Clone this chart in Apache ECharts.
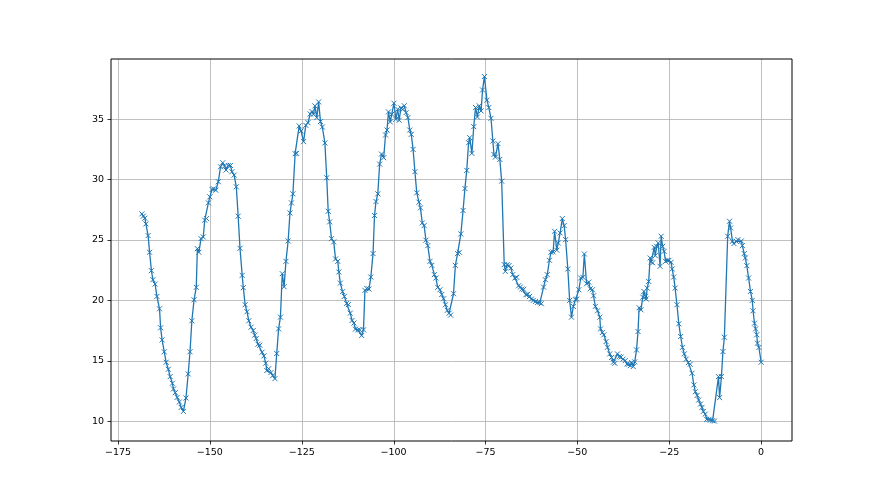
<!DOCTYPE html>
<html>
<head>
<meta charset="utf-8">
<script src="https://cdn.jsdelivr.net/npm/echarts@6/dist/echarts.min.js"></script>
<style>
html,body{margin:0;padding:0;background:#fff;}
#chart{width:880px;height:495px;}
</style>
</head>
<body>
<div id="chart"></div>
<script>
// hours relative to now
const hours = [
-168.5,-168.1,-167.7,-167.4,-166.8,-166.4,-165.9,-165.5,-164.9,-164.4,-163.7,-163.4,-163.0,-162.4,-161.9,-161.3,-160.8,-160.2,-159.9,-159.4,-158.9,-158.3,-157.8,-157.2,
-156.5,-155.9,-155.4,-154.9,-154.3,-153.7,-153.4,-153.0,-152.4,-151.8,-151.4,-150.9,-150.4,-150.0,-149.4,-149.0,-148.4,-147.7,-147.1,-146.5,-146.0,-145.6,-145.0,-144.4,-144.0,-143.4,-142.8,-142.3,-141.8,-141.2,-140.9,
-140.4,-139.9,-139.4,-138.8,-138.2,-137.8,-137.4,-136.9,-136.4,-135.8,-135.3,-134.8,-134.5,-134.0,-133.4,-132.9,-132.3,-131.8,-131.3,-130.8,-130.3,-129.8,-129.3,-128.7,-128.2,-127.8,-127.4,-126.8,-126.4,
-125.7,-125.2,-124.5,-123.9,-123.3,-122.7,-122.2,-121.8,-121.4,-120.9,-120.4,-119.9,-119.4,-118.7,-118.2,-117.8,-117.4,-116.9,-116.3,-115.8,-115.2,-114.9,-114.5,-113.9,-113.4,-112.8,-112.3,-111.8,-111.3,-110.8,-110.4,
-109.7,-109.2,-108.7,-108.2,-107.8,-107.3,-106.7,-106.2,-105.6,-105.2,-104.8,-104.3,-103.8,-103.3,-102.7,-102.2,-101.8,-101.4,-100.9,-100.5,-99.9,-99.4,-98.9,-98.5,-98.0,-97.5,-97.1,-96.6,-96.1,
-95.6,-95.2,-94.7,-94.2,-93.7,-93.1,-92.7,-92.2,-91.7,-91.2,-90.7,-90.1,-89.6,-88.9,-88.5,-88.0,-87.4,-86.9,-86.4,-85.9,-85.4,-84.9,-84.5,-83.7,-83.2,-82.6,-82.1,-81.7,-81.1,-80.6,-80.1,
-79.6,-79.3,-78.7,-78.2,-77.7,-77.2,-76.7,-76.2,-75.8,-75.3,-74.6,-74.1,-73.5,-73.0,-72.7,-72.3,-71.6,-71.1,-70.6,-69.9,-69.6,-69.1,-68.6,-68.1,-67.6,-67.0,-66.5,
-66.0,-65.5,-65.1,-64.6,-64.0,-63.5,-63.0,-62.5,-62.0,-61.4,-60.8,-60.2,-59.8,-59.2,-58.7,-58.2,-57.6,-57.2,-56.6,-56.2,-55.6,-55.2,-54.7,-54.1,-53.6,-53.2,-52.6,-52.1,-51.6,-51.1,-50.5,-50.2,
-49.6,-49.1,-48.5,-48.1,-47.5,-46.9,-46.5,-45.9,-45.6,-45.1,-44.5,-43.9,-43.7,-43.2,-42.8,-42.2,-41.8,-41.2,-40.7,-40.2,-39.8,-39.1,-38.6,-38.1,-37.6,-37.0,-36.5,-36.1,-35.6,-35.2,-34.8,-34.4,
-33.9,-33.5,-33.2,-32.7,-32.2,-31.9,-31.5,-31.3,-31.0,-30.6,-30.2,-29.9,-29.5,-29.1,-28.8,-28.4,-28.0,-27.5,-27.2,-26.8,-26.4,-26.0,-25.5,-25.1,-24.5,-24.2,-23.8,-23.4,-22.9,-22.4,
-21.9,-21.4,-20.9,-20.4,-19.8,-19.3,-18.8,-18.3,-17.9,-17.4,-17.0,-16.5,-16.1,-15.7,-15.2,-14.8,-14.2,-13.8,-13.2,-12.7,-11.6,-11.3,-10.8,-10.4,-10.0,
-9.1,-8.6,-8.3,-7.8,-7.4,-6.8,-6.3,-5.4,-5.1,-4.6,-4.3,-3.9,-3.4,-2.9,-2.4,-2.2,-1.8,-1.5,-1.2,-1.0,-0.6,0.0
];
// temperature values
const temps = [
27.15,26.96,26.79,26.32,25.35,23.97,22.45,21.70,21.34,20.32,19.29,17.72,16.72,15.73,14.87,14.29,13.68,13.13,12.66,12.35,11.96,11.58,11.13,10.80,
11.91,13.90,15.74,18.30,20.04,21.07,24.27,23.97,25.10,25.24,26.63,26.76,28.06,28.56,29.17,29.22,29.11,29.81,31.05,31.38,31.11,30.78,31.16,31.16,30.64,30.36,29.39,26.96,24.30,22.06,21.04,
19.63,19.05,18.30,17.77,17.50,17.11,16.83,16.36,16.28,15.70,15.39,14.79,14.18,14.34,14.01,13.76,13.51,15.59,17.63,18.60,22.20,21.12,23.22,24.91,27.23,28.06,28.81,32.13,32.16,
34.43,34.01,33.13,34.48,34.70,35.42,35.62,35.40,36.09,35.12,36.42,34.79,34.34,33.02,30.14,27.37,26.49,25.10,24.83,23.42,23.22,22.34,21.42,20.71,20.32,19.74,19.64,18.93,18.33,18.11,17.61,
17.55,17.55,17.08,17.55,20.82,20.98,20.93,21.92,23.86,27.01,28.17,28.81,31.27,32.10,31.80,33.68,34.09,35.59,34.76,35.40,36.31,34.98,35.81,34.90,35.92,35.80,36.10,35.53,35.12,
34.09,33.73,32.49,30.64,28.89,28.12,27.65,26.40,26.18,24.97,24.52,23.22,22.89,22.12,21.84,21.07,20.87,20.48,20.12,19.63,19.16,18.93,18.77,20.54,22.89,23.86,23.97,25.49,27.43,29.25,30.75,
33.04,33.46,32.16,34.37,35.95,35.17,36.09,35.67,37.41,38.52,36.56,35.95,35.06,33.18,32.07,31.85,32.96,31.66,29.86,22.95,22.39,22.95,22.87,22.67,22.12,21.84,21.90,
21.20,21.10,20.93,20.90,20.46,20.50,20.32,20.10,19.99,19.90,19.82,19.80,19.71,21.09,21.70,22.12,23.31,23.97,24.00,25.71,24.14,24.74,25.57,26.76,26.18,25.02,22.59,19.99,18.60,19.49,20.04,20.10,
20.87,21.84,21.90,23.83,21.37,21.50,20.95,20.87,20.37,19.49,19.13,18.60,17.63,17.33,17.14,16.58,16.11,15.56,15.26,14.87,14.78,15.56,15.34,15.30,15.12,15.00,14.73,14.70,14.59,14.84,14.51,14.90,
15.89,17.41,19.38,19.21,20.26,20.73,20.32,20.10,21.01,21.56,23.50,23.17,23.10,24.38,23.69,24.46,24.74,22.81,25.30,24.46,24.05,23.22,23.30,23.30,23.14,22.59,21.92,21.01,19.63,18.05,
17.00,16.10,15.56,15.12,14.84,14.70,13.96,12.99,12.43,12.13,11.74,11.41,11.13,10.80,10.58,10.14,10.14,10.08,10.03,10.00,13.68,11.94,13.68,15.75,16.94,
25.30,26.54,25.99,24.88,24.69,24.88,25.02,24.90,24.52,23.86,23.50,22.86,21.84,20.73,19.99,19.13,18.10,17.63,17.14,16.45,16.09,14.87
];
const xTicks = [-175, -150, -125, -100, -75, -50, -25, 0];
const yTicks = [10, 15, 20, 25, 30, 35];

const points = hours.map((h, i) => [h, temps[i]]);
const fmt = v => String(v).replace('-', '\u2212');
const labelStyle = {color: '#000', fontSize: 9.5, fontFamily: 'DejaVu Sans', margin: 7, formatter: fmt};

const chart = echarts.init(document.getElementById('chart'), null, {renderer: 'canvas'});
chart.setOption({
  animation: false,
  backgroundColor: '#fff',
  grid: {left: 111, right: 88, top: 59, bottom: 54, show: true, borderColor: '#000', borderWidth: 1, backgroundColor: 'transparent', z: 5},
  xAxis: {
    type: 'value', min: -176.9, max: 8.4,
    axisLine: {show: false},
    axisTick: {show: false},
    axisLabel: Object.assign({customValues: xTicks}, labelStyle),
    splitLine: {show: false}
  },
  yAxis: {
    type: 'value', min: 8.35, max: 39.97,
    axisLine: {show: false},
    axisTick: {show: false},
    axisLabel: Object.assign({customValues: yTicks}, labelStyle),
    splitLine: {show: false}
  },
  series: [{
    type: 'line',
    data: points,
    showAllSymbol: true,
    symbol: 'path://M0,0L10,10M10,0L0,10',
    symbolSize: 5,
    lineStyle: {color: '#1f77b4', width: 1.3},
    itemStyle: {color: '#1f77b4', borderColor: '#1f77b4', borderWidth: 1},
    emphasis: {disabled: true},
    z: 3
  }]
});

// grid lines and tick marks placed through the axes' own scales
const yTop = chart.convertToPixel({yAxisIndex: 0}, 39.97);
const yBot = chart.convertToPixel({yAxisIndex: 0}, 8.35);
const xLeft = chart.convertToPixel({xAxisIndex: 0}, -176.9);
const xRight = chart.convertToPixel({xAxisIndex: 0}, 8.4);
const crisp = v => Math.round(v) + 0.5;
const els = [];
xTicks.forEach(v => {
  const px = crisp(chart.convertToPixel({xAxisIndex: 0}, v));
  els.push({type: 'line', z: 0, silent: true, shape: {x1: px, y1: yTop, x2: px, y2: yBot}, style: {stroke: '#b0b0b0', lineWidth: 0.8}});
  els.push({type: 'line', z: 0, silent: true, shape: {x1: px, y1: yBot, x2: px, y2: yBot + 3.5}, style: {stroke: '#000', lineWidth: 0.8}});
});
yTicks.forEach(v => {
  const py = crisp(chart.convertToPixel({yAxisIndex: 0}, v));
  els.push({type: 'line', z: 0, silent: true, shape: {x1: xLeft, y1: py, x2: xRight, y2: py}, style: {stroke: '#b0b0b0', lineWidth: 0.8}});
  els.push({type: 'line', z: 0, silent: true, shape: {x1: xLeft - 3.5, y1: py, x2: xLeft, y2: py}, style: {stroke: '#000', lineWidth: 0.8}});
});
chart.setOption({graphic: {elements: els}});
</script>
</body>
</html>
